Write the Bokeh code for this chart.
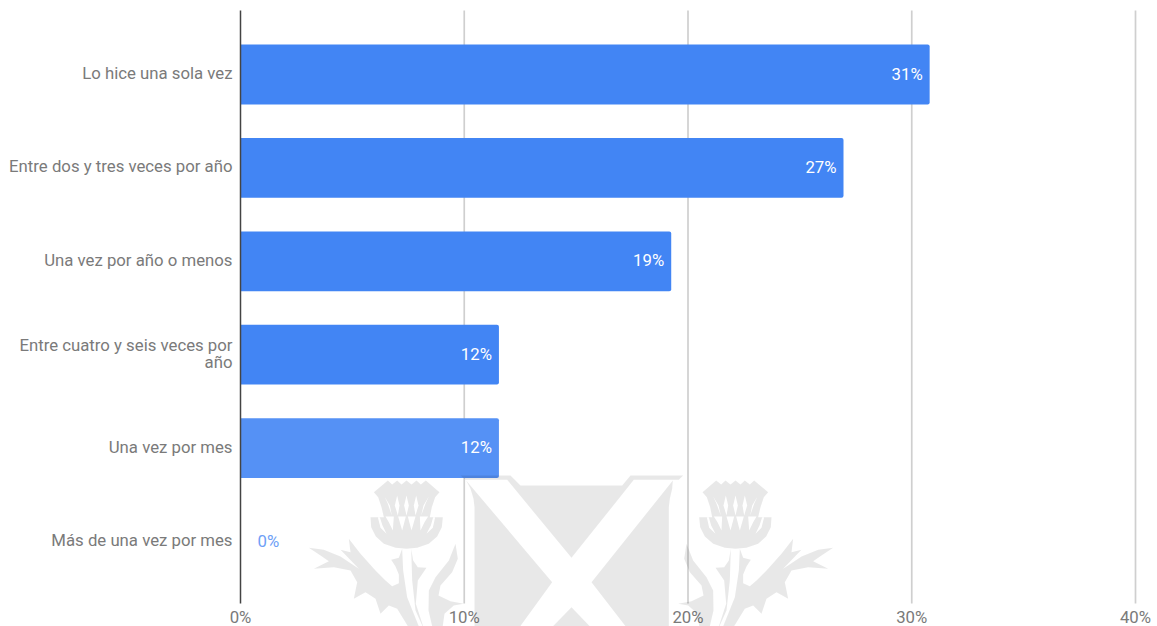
from bokeh.embed import file_html
from bokeh.models import ColumnDataSource, FixedTicker, LinearAxis, PolyAnnotation, Range1d
from bokeh.plotting import figure
from bokeh.resources import INLINE
from bokeh.core.properties import value

categories = [
    "Lo hice una sola vez",
    "Entre dos y tres veces por año",
    "Una vez por año o menos",
    "Entre cuatro y seis veces por\naño",
    "Una vez por mes",
    "Más de una vez por mes",
]
shares = [30.8, 26.95, 19.25, 11.55, 11.55, 0.0]
bar_colors = ["#4285f4", "#4285f4", "#4285f4", "#4285f4", "#5591f5", "#4285f4"]
x_ticks = [0, 10, 20, 30, 40]

FONT = "Roboto"
SIZE = "16.75px"
GREY = "#7a7a7a"

# The frame fills the whole canvas so the crest and the axis labels can share it;
# the axes sit at fixed positions inside it.
CANVAS_W, CANVAS_H = 1157, 626
PX_PER_PERCENT = 22.375
PX_PER_ROW = 93.4
LEFT_PX, FIRST_ROW_PX = 240, 74.0
AXIS_TOP = (10 - FIRST_ROW_PX) / PX_PER_ROW
AXIS_BOTTOM = (603 - FIRST_ROW_PX) / PX_PER_ROW
LABEL_LIFT = 1.5 / PX_PER_ROW

rows = list(range(len(categories)))
labels = [f"{round(v)}%" for v in shares]
inside = ColumnDataSource(dict(
    x=[v for v in shares if v > 0],
    y=[r for r, v in zip(rows, shares) if v > 0],
    t=[t for t, v in zip(labels, shares) if v > 0],
))
outside = ColumnDataSource(dict(
    x=[v for v in shares if v == 0],
    y=[r for r, v in zip(rows, shares) if v == 0],
    t=[t for t, v in zip(labels, shares) if v == 0],
))

y_start = (CANVAS_H - FIRST_ROW_PX) / PX_PER_ROW
y_end = -FIRST_ROW_PX / PX_PER_ROW

p = figure(
    width=CANVAS_W, height=CANVAS_H, output_backend="svg", toolbar_location=None,
    x_range=Range1d(-LEFT_PX / PX_PER_PERCENT, (CANVAS_W - LEFT_PX) / PX_PER_PERCENT),
    y_range=Range1d(y_start, y_end),
    y_axis_location=None,
    min_border=0, outline_line_color=None, background_fill_color="white",
)
# category labels run on a range nudged slightly upward
p.extra_y_ranges["category_labels"] = Range1d(y_start + LABEL_LIFT, y_end + LABEL_LIFT)

p.grid.visible = False
p.segment(x0=x_ticks[1:], x1=x_ticks[1:], y0=AXIS_TOP, y1=AXIS_BOTTOM,
          line_color="#cfcfcf", line_width=1.7)

p.xaxis.fixed_location = AXIS_BOTTOM
p.xaxis.ticker = FixedTicker(ticks=x_ticks)
p.xaxis.major_label_overrides = {t: f"{t}%" for t in x_ticks}
p.xaxis.axis_line_color = None
p.xaxis.major_tick_line_color = None
p.xaxis.minor_tick_line_color = None
p.xaxis.major_tick_out = 0
p.xaxis.major_tick_in = 0
p.xaxis.major_label_standoff = 3
p.xaxis.major_label_text_font = FONT
p.xaxis.major_label_text_font_size = SIZE
p.xaxis.major_label_text_color = GREY

yaxis = LinearAxis(
    y_range_name="category_labels",
    fixed_location=0,
    ticker=FixedTicker(ticks=rows),
    bounds=(AXIS_TOP + LABEL_LIFT, AXIS_BOTTOM + LABEL_LIFT),
    major_label_overrides=dict(zip(rows, categories)),
    axis_line_color="#444444",
    axis_line_width=1.5,
    major_tick_line_color=None,
    minor_tick_line_color=None,
    major_tick_out=0,
    major_tick_in=0,
    major_label_standoff=8,
    major_label_text_font=FONT,
    major_label_text_font_size=SIZE,
    major_label_text_color=GREY,
    major_label_text_line_height=0.85,
)
p.add_layout(yaxis, "left")

p.hbar(y=rows, left=0, right=shares, height=0.64, color=bar_colors,
       line_color=None, border_radius=(0, 2, 2, 0))

p.text(x="x", y="y", text="t", source=inside, x_offset=-7, y_offset=-1, text_align="right",
       text_baseline="middle", text_color="white", text_font=value(FONT),
       text_font_size=SIZE)
p.text(x="x", y="y", text="t", source=outside, x_offset=17, y_offset=-1, text_align="left",
       text_baseline="middle", text_color="#6ea0f6", text_font=value(FONT),
       text_font_size=SIZE)

# Crest drawn over the chart: a saltire shield between two thistles.
# Outlines are canvas pixels at 3x, relative to each part's own origin.
SHIELD = [
    [(15, 15), (165, 15), (195, 45), (500, 45), (525, 15), (683, 15), (670, 28),
     (535, 28), (348, 262), (155, 28), (30, 28)],
    [(32, 30), (290, 335), (185, 480), (57, 480), (57, 110), (54, 85), (45, 55)],
    [(652, 30), (408, 335), (520, 480), (640, 480), (640, 110), (643, 85), (650, 55)],
    [(348, 410), (280, 480), (415, 480)],
]
THISTLE_SOLID = [
    # flower head
    [(220, 65), (262, 30), (275, 42), (290, 30), (303, 42), (318, 30), (333, 42),
     (348, 30), (361, 42), (376, 30), (417, 65), (404, 80), (394, 110), (388, 140),
     (427, 140), (424, 170), (410, 198), (385, 220), (350, 232), (318, 235),
     (285, 232), (250, 220), (226, 198), (212, 170), (210, 140), (250, 140),
     (243, 110), (233, 80)],
    # leaf running out to the side
    [(25, 232), (70, 238), (120, 258), (175, 295), (120, 238), (150, 245), (145, 205),
     (180, 250), (225, 300), (255, 330), (275, 347), (295, 338), (295, 312), (285, 288),
     (272, 268), (295, 262), (305, 235), (308, 300), (320, 380), (360, 480), (330, 480),
     (290, 415), (265, 405), (240, 430), (225, 385), (195, 365), (160, 385), (170, 335),
     (150, 300), (100, 290), (40, 295), (85, 272), (60, 255)],
    # wedge beside the stem
    [(332, 235), (338, 270), (352, 290), (378, 292), (352, 330), (346, 400), (372, 480),
     (345, 420), (335, 330)],
    # curved leaf rising beside the stem
    [(465, 220), (472, 265), (455, 305), (420, 345), (414, 375), (450, 392), (490, 400),
     (460, 405), (432, 430), (425, 480), (398, 480), (384, 420), (385, 360), (405, 320),
     (445, 270)],
]
THISTLE_CUTS = [
    [(252, 78), (262, 100), (274, 135), (268, 105)],
    [(290, 75), (283, 105), (292, 135), (297, 105)],
    [(318, 75), (311, 105), (318, 135), (325, 105)],
    [(347, 75), (340, 105), (345, 135), (354, 105)],
    [(385, 78), (369, 105), (362, 135), (375, 100)],
    [(255, 138), (280, 138), (277, 180), (265, 155)],
    [(293, 138), (316, 138), (305, 180)],
    [(322, 138), (345, 138), (333, 180)],
    [(358, 138), (383, 138), (372, 155), (360, 180)],
    [(232, 140), (238, 140), (246, 165), (258, 190), (240, 172)],
    [(398, 140), (404, 140), (397, 172), (378, 190), (391, 165)],
]


def crest(points, origin_x, origin_y, mirror_about=None, **style):
    xs = [origin_x + px / 3 for px, _ in points]
    ys = [origin_y + py / 3 for _, py in points]
    if mirror_about is not None:
        xs = [2 * mirror_about - x for x in xs]
    p.add_layout(PolyAnnotation(
        xs=xs, ys=ys, xs_units="canvas", ys_units="canvas",
        line_color=None, level="overlay", **style))


GREY_VEIL = dict(fill_color="black", fill_alpha=0.09)
WHITE_CUT = dict(fill_color="white", fill_alpha=1.0)

for outline in SHIELD:
    crest(outline, 455, 470, **GREY_VEIL)
for mirror in (None, 570.5):
    for outline in THISTLE_SOLID:
        crest(outline, 300, 470, mirror, **GREY_VEIL)
    for outline in THISTLE_CUTS:
        crest(outline, 300, 470, mirror, **WHITE_CUT)

open("out.html", "w").write(file_html(p, INLINE))
